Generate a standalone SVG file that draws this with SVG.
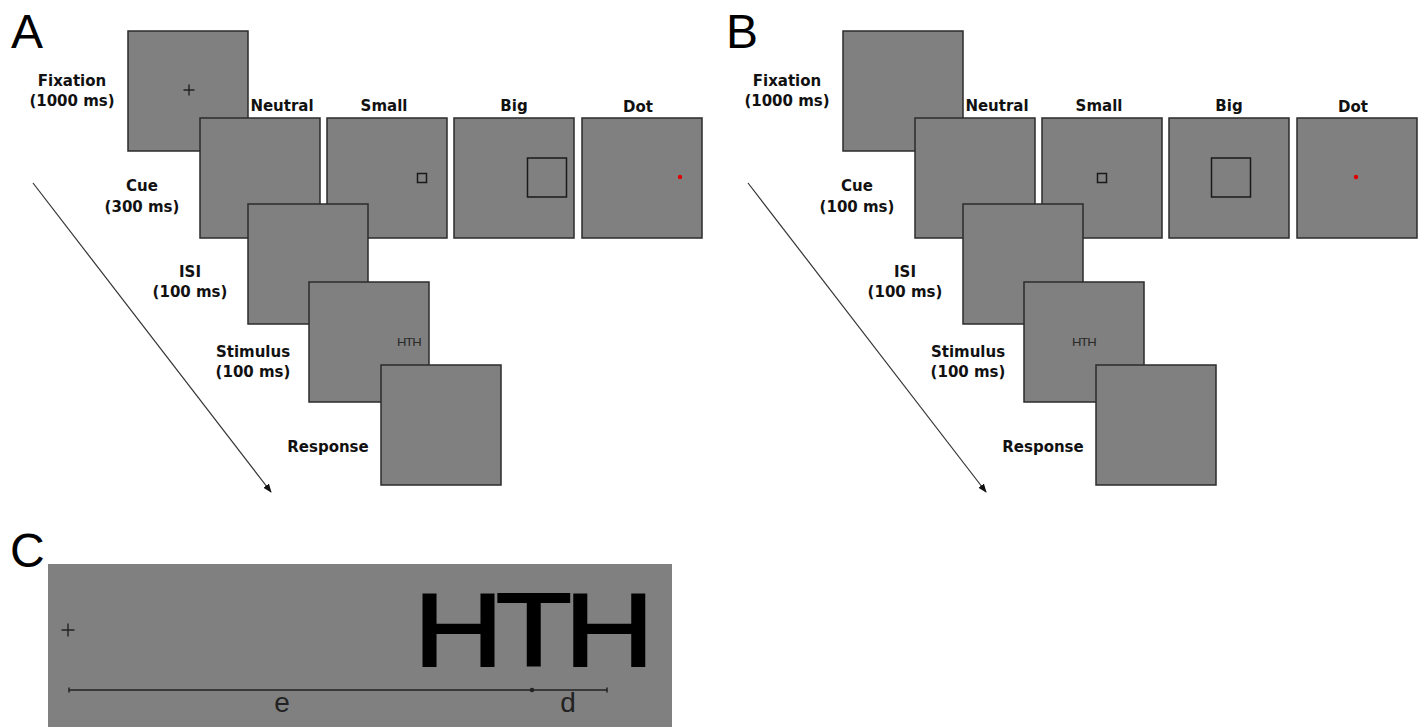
<svg xmlns="http://www.w3.org/2000/svg" width="1419" height="727" viewBox="0 0 1419 727">
<defs>
<style>
.scr{fill:#808080;stroke:#2b2b2b;stroke-width:1.5}
.lbl{font-family:"DejaVu Sans",Verdana,sans-serif;font-weight:bold;font-size:15px;fill:#111;text-anchor:middle}
.pan{font-family:"Liberation Sans",Arial,sans-serif;font-size:48px;fill:#000}
.cross{stroke:#222;stroke-width:1.4;fill:none}
.cue{fill:none;stroke:#1a1a1a;stroke-width:1.5}
.sm{font-family:"Liberation Sans",Arial,sans-serif;font-size:10.5px;fill:#2a2a2a}
.meas{font-family:"Liberation Sans",Arial,sans-serif;font-size:28px;fill:#222;text-anchor:middle}
.arr{stroke:#333;stroke-width:1.2;fill:none}
</style>
<marker id="ah" markerWidth="9" markerHeight="8" refX="8" refY="4" orient="auto" markerUnits="userSpaceOnUse">
<path d="M0,0.5 L9,4 L0,7.5 z" fill="#111"/>
</marker>
</defs>
<rect width="1419" height="727" fill="#fff"/>

<!-- Panel A -->
<g id="panelA">
<text class="pan" x="11" y="48">A</text>
<g id="A-fixation">
<rect class="scr" x="128" y="31" width="120" height="120"/>
<path class="cross" d="M183.5,90 H194.5 M189,84.5 V95.5"/>
<text class="lbl" x="72" y="86">Fixation</text>
<text class="lbl" x="72" y="106">(1000 ms)</text>
</g>
<g id="A-neutral">
<rect class="scr" x="200" y="118" width="120" height="120"/>
<text class="lbl" x="282" y="111">Neutral</text>
<text class="lbl" x="142" y="191">Cue</text>
<text class="lbl" x="142" y="212">(300 ms)</text>
</g>
<g id="A-small">
<rect class="scr" x="327" y="118" width="120" height="120"/>
<rect class="cue" x="417.5" y="173.5" width="9" height="9"/>
<text class="lbl" x="384" y="111">Small</text>
</g>
<g id="A-big">
<rect class="scr" x="454" y="118" width="120" height="120"/>
<rect class="cue" x="527.5" y="158" width="39" height="39"/>
<text class="lbl" x="514" y="111">Big</text>
</g>
<g id="A-dot">
<rect class="scr" x="582" y="118" width="120" height="120"/>
<circle cx="680" cy="177" r="2.2" fill="#e00000"/>
<text class="lbl" x="638" y="112">Dot</text>
</g>
<g id="A-isi">
<rect class="scr" x="248" y="204" width="120" height="120"/>
<text class="lbl" x="190" y="277">ISI</text>
<text class="lbl" x="190" y="297">(100 ms)</text>
</g>
<g id="A-stimulus">
<rect class="scr" x="309" y="282" width="120" height="120"/>
<text class="sm" transform="translate(398 346) scale(1.25 1)" x="-0.8" letter-spacing="-0.9">HTH</text>
<text class="lbl" x="253" y="357">Stimulus</text>
<text class="lbl" x="253" y="377">(100 ms)</text>
</g>
<g id="A-response">
<rect class="scr" x="381" y="365" width="120" height="120"/>
<text class="lbl" x="328" y="452">Response</text>
</g>
</g>

<!-- Panel B -->
<g id="panelB">
<text class="pan" x="726" y="48">B</text>
<g id="B-fixation">
<rect class="scr" x="843" y="31" width="120" height="120"/>
<text class="lbl" x="787" y="86">Fixation</text>
<text class="lbl" x="787" y="106">(1000 ms)</text>
</g>
<g id="B-neutral">
<rect class="scr" x="915" y="118" width="120" height="120"/>
<text class="lbl" x="997" y="111">Neutral</text>
<text class="lbl" x="857" y="191">Cue</text>
<text class="lbl" x="857" y="212">(100 ms)</text>
</g>
<g id="B-small">
<rect class="scr" x="1042" y="118" width="120" height="120"/>
<rect class="cue" x="1097.5" y="173.5" width="9" height="9"/>
<text class="lbl" x="1099" y="111">Small</text>
</g>
<g id="B-big">
<rect class="scr" x="1169" y="118" width="120" height="120"/>
<rect class="cue" x="1211.5" y="158" width="39" height="39"/>
<text class="lbl" x="1229" y="111">Big</text>
</g>
<g id="B-dot">
<rect class="scr" x="1297" y="118" width="120" height="120"/>
<circle cx="1356" cy="177" r="2.2" fill="#e00000"/>
<text class="lbl" x="1353" y="112">Dot</text>
</g>
<g id="B-isi">
<rect class="scr" x="963" y="204" width="120" height="120"/>
<text class="lbl" x="905" y="277">ISI</text>
<text class="lbl" x="905" y="297">(100 ms)</text>
</g>
<g id="B-stimulus">
<rect class="scr" x="1024" y="282" width="120" height="120"/>
<text class="sm" transform="translate(1073 346) scale(1.25 1)" x="-0.8" letter-spacing="-0.9">HTH</text>
<text class="lbl" x="968" y="357">Stimulus</text>
<text class="lbl" x="968" y="377">(100 ms)</text>
</g>
<g id="B-response">
<rect class="scr" x="1096" y="365" width="120" height="120"/>
<text class="lbl" x="1043" y="452">Response</text>
</g>
</g>

<!-- Connectors (time arrows) -->
<g id="connectors">
<line class="arr" x1="33" y1="183" x2="271" y2="492" marker-end="url(#ah)"/>
<line class="arr" x1="748" y1="183" x2="986" y2="492" marker-end="url(#ah)"/>
</g>

<!-- Panel C -->
<g id="panelC">
<text class="pan" x="10" y="567">C</text>
<rect x="48" y="564" width="624" height="163" fill="#808080"/>
<path class="cross" d="M61.5,630 H74.5 M68,623.5 V636.5"/>
<text transform="translate(419 666) scale(1.21 1)" x="-4.5" letter-spacing="-6.4" font-family="'Liberation Sans',Arial,sans-serif" font-size="103" fill="#000" stroke="#000" stroke-width="2">HTH</text>
<g id="C-measure" stroke="#222" stroke-width="1.5" fill="none">
<line x1="69" y1="690" x2="607" y2="690"/>
<line x1="69" y1="687.5" x2="69" y2="692.5"/>
<line x1="607" y1="687.5" x2="607" y2="692.5"/>
<circle cx="532" cy="690" r="1.5" fill="#222"/>
</g>
<text class="meas" x="282" y="712">e</text>
<text class="meas" x="568" y="712">d</text>
</g>
</svg>
